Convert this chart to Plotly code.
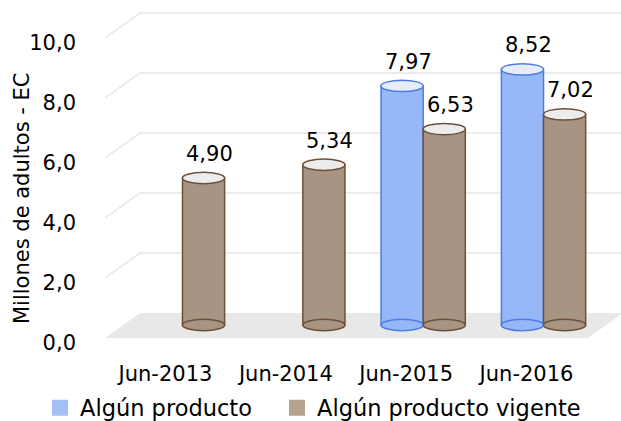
import plotly.graph_objects as go

# data
categories = ["Jun-2013", "Jun-2014", "Jun-2015", "Jun-2016"]
series_names = ["Algún producto", "Algún producto vigente"]
algun_producto = [None, None, 7.97, 8.52]
algun_producto_vigente = [4.90, 5.34, 6.53, 7.02]
y_ticks = [0, 2, 4, 6, 8, 10]

# colours
BLUE, BLUE_EDGE, BLUE_TOP, BLUE_KEY = "#96b7f8", "#4d7de3", "#e6ecf8", "#a3c1f7"
BROWN, BROWN_EDGE, BROWN_TOP = "#a89483", "#6e5038", "#ececec"
BROWN_KEY = "#b5a291"
GRID = "#e6e6e6"
FONT = "DejaVu Sans"

# geometry in screen pixels (body margin is removed below)
W, H = 621, 421
L, R, T, B = 85, 0, 10, 71
PW, PH = W - L - R, H - T - B
PX_PER_UNIT = 30
ZERO_PX = 325                      # screen row of value 0 (middle depth)
FRONT = -13 / PX_PER_UNIT          # front plane offset in data units
BACK = 12 / PX_PER_UNIT            # back wall offset in data units
BARGAP = 0.30
HALF_BAR = (1 - BARGAP) / 4
ELL = 0.19                         # half height of cylinder caps (data units)


def sx(px):
    return (px - L) / PW


def sy(px):
    return (T + PH - px) / PH


y_lo = -(T + PH - ZERO_PX) / PX_PER_UNIT
y_hi = (ZERO_PX - T) / PX_PER_UNIT
xpos = list(range(len(categories)))

fig = go.Figure()
fig.add_trace(go.Bar(x=xpos, y=algun_producto, name=series_names[0], showlegend=False,
                     marker=dict(color=BLUE, line=dict(color=BLUE_EDGE, width=1.5))))
fig.add_trace(go.Bar(x=xpos, y=algun_producto_vigente, name=series_names[1], showlegend=False,
                     marker=dict(color=BROWN, line=dict(color=BROWN_EDGE, width=1.5))))
# legend keys (bigger squares than the default bar key), one legend each
for name, key, leg in zip(series_names, [BLUE_KEY, BROWN_KEY], ["legend", "legend2"]):
    fig.add_trace(go.Scatter(x=[None], y=[None], mode="markers", name=name, legend=leg,
                             marker=dict(symbol="square", size=16, color=key, line=dict(width=0))))

shapes = []
# floor
xf, xb = sx(105), sx(140)
xfr, xbr = sx(588), sx(623)
shapes.append(dict(type="path", xref="paper", yref="y", layer="below",
                   path=f"M {xf},{FRONT} L {xfr},{FRONT} L {xbr},{BACK} L {xb},{BACK} Z",
                   fillcolor="#e8e8e8", line=dict(width=0)))
# back wall + side wall grid lines
for v in y_ticks[1:]:
    shapes.append(dict(type="path", xref="paper", yref="y", layer="below",
                       path=f"M {xf},{v + FRONT} L {xb},{v + BACK} L 1.02,{v + BACK}",
                       line=dict(color=GRID, width=1.5)))

# cylinder caps and value labels
annotations = []
series = [(algun_producto, -HALF_BAR, BLUE, BLUE_EDGE, BLUE_TOP),
          (algun_producto_vigente, HALF_BAR, BROWN, BROWN_EDGE, BROWN_TOP)]
for vals, off, col, edge, top in series:
    for i, v in enumerate(vals):
        if v is None:
            continue
        cx = xpos[i] + off
        shapes.append(dict(type="circle", xref="x", yref="y", layer="above",
                           x0=cx - HALF_BAR, x1=cx + HALF_BAR, y0=-ELL, y1=ELL,
                           fillcolor=col, line=dict(color=edge, width=1.5)))
        shapes.append(dict(type="circle", xref="x", yref="y", layer="above",
                           x0=cx - HALF_BAR, x1=cx + HALF_BAR, y0=v - ELL, y1=v + ELL,
                           fillcolor=top, line=dict(color=edge, width=1.5)))
        annotations.append(dict(x=cx, y=v, xref="x", yref="y", text=f"{v:.2f}".replace(".", ","),
                                showarrow=False, yanchor="bottom", yshift=10, xshift=6,
                                font=dict(family=FONT, size=21, color="#000000")))

annotations.append(dict(text="Millones de adultos - EC", textangle=-90, showarrow=False,
                        xref="paper", yref="paper", x=sx(22), y=sy(199),
                        xanchor="center", yanchor="middle",
                        font=dict(family=FONT, size=21, color="#000000")))

legend_style = dict(orientation="h", yanchor="middle", xanchor="left", y=sy(408),
                    itemsizing="trace", font=dict(family=FONT, size=22.5),
                    bgcolor="rgba(0,0,0,0)")

fig.update_layout(
    width=W, height=H,
    margin=dict(l=L, r=R, t=T, b=B, autoexpand=False),
    paper_bgcolor="white", plot_bgcolor="rgba(0,0,0,0)",
    separators=",.",
    barmode="group", bargap=BARGAP, bargroupgap=0,
    font=dict(family=FONT, color="#000000"),
    shapes=shapes, annotations=annotations,
    xaxis=dict(domain=[sx(122.3), sx(603.7)], range=[-0.5, 3.5],
               tickmode="array", tickvals=xpos, ticktext=categories,
               showgrid=False, zeroline=False, showline=False, ticks="",
               ticklabelshift=-17, ticklabelstandoff=9,
               tickfont=dict(family=FONT, size=21)),
    yaxis=dict(range=[y_lo, y_hi], anchor="free", position=0,
               tickmode="array", tickvals=y_ticks, tickformat=".1f",
               showgrid=False, zeroline=False, showline=False, ticks="",
               ticklabelshift=18, ticklabelstandoff=9,
               tickfont=dict(family=FONT, size=21)),
    legend=dict(x=sx(40), **legend_style),
    legend2=dict(x=sx(277), **legend_style),
)

# drop the default 8px page margin so the figure sits at the window origin
fig.write_html("out.html", config={"displayModeBar": False},
               post_script="document.body.style.margin = '0px';")
